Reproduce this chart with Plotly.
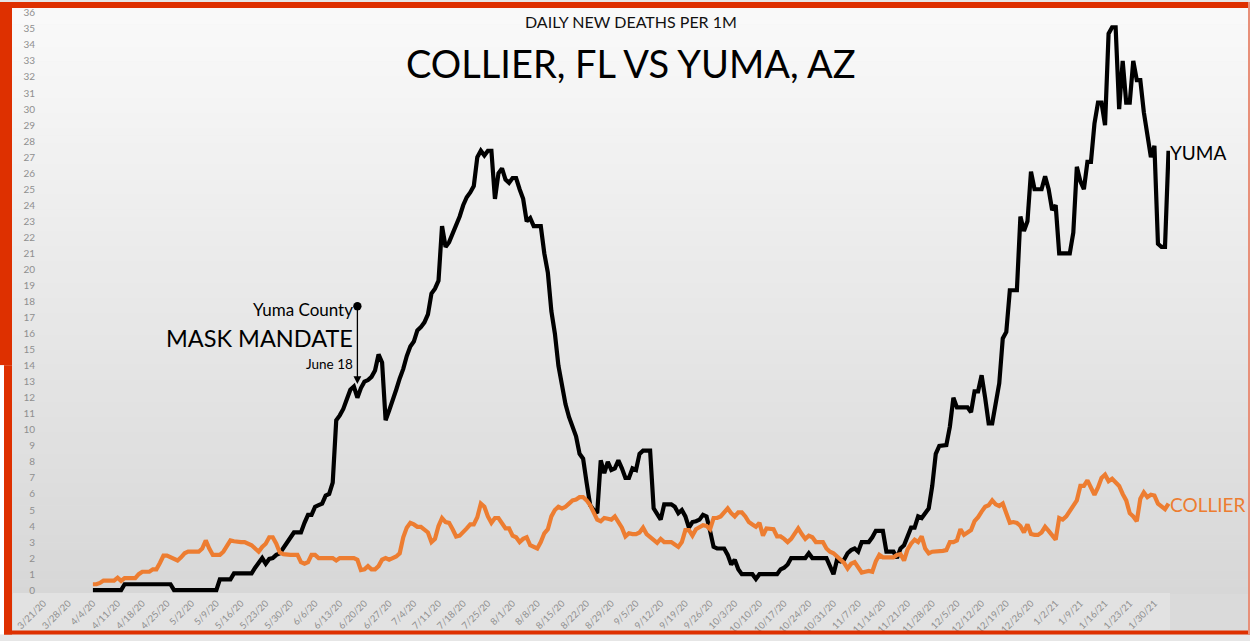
import plotly.graph_objects as go
import pandas as pd

# ---------------- data ----------------
start_date = "2020-04-04"   # first plotted day, one value per day

yuma = [
    0, 0, 0, 0, 0, 0, 0, 0, 0, 0.37,
    0.37, 0.37, 0.37, 0.37, 0.37, 0.37, 0.37, 0.37, 0.37, 0.37,
    0.37, 0.37, 0.37, 0, 0, 0, 0, 0, 0, 0,
    0, 0, 0, 0, 0, 0, 0.68, 0.68, 0.68, 0.68,
    1.05, 1.05, 1.05, 1.05, 1.05, 1.05, 1.4, 1.7, 2.0, 1.65,
    1.95, 2.0, 2.2, 2.3, 2.6, 2.9, 3.2, 3.6, 3.6, 3.6,
    4.2, 4.7, 4.7, 5.2, 5.3, 5.4, 5.9, 6.0, 6.7, 10.6,
    10.9, 11.3, 11.9, 12.5, 12.7, 12.0, 12.6, 13.0, 13.1, 13.3,
    13.7, 14.7, 14.2, 10.6, 11.2, 11.8, 12.5, 13.2, 13.8, 14.6,
    15.2, 15.5, 16.2, 16.4, 16.7, 17.2, 18.5, 18.8, 19.3, 22.7,
    21.4, 21.7, 22.2, 22.7, 23.3, 24.0, 24.5, 24.8, 25.2, 27.0,
    27.4, 27.1, 27.4, 27.4, 24.4, 26.0, 26.3, 25.6, 25.4, 25.7,
    25.7, 25.0, 24.4, 23.0, 23.2, 22.7, 22.7, 22.7, 21.0, 19.8,
    17.4, 16.0, 14.0, 12.8, 11.6, 10.8, 10.2, 9.6, 8.5, 8.2,
    6.7, 5.3, 5.0, 4.8, 8.1, 7.3, 8.0, 7.5, 7.6, 8.1,
    7.6, 7.0, 7.0, 7.6, 7.5, 8.5, 8.7, 8.7, 8.7, 5.1,
    4.8, 4.4, 5.35, 5.35, 5.35, 5.2, 4.8, 5.0, 4.6, 3.9,
    4.25, 4.3, 4.4, 4.7, 4.6, 3.7, 2.7, 2.6, 2.6, 2.6,
    2.2, 1.6, 1.9, 1.3, 1.0, 1.0, 1.0, 1.0, 0.7, 1.0,
    1.0, 1.0, 1.0, 1.0, 1.0, 1.3, 1.4, 1.6, 2.0, 2.0,
    2.0, 2.0, 2.0, 2.3, 2.0, 2.0, 2.0, 2.0, 2.0, 1.5,
    1.0, 1.9, 1.8, 1.9, 2.3, 2.5, 2.6, 2.4, 3.0, 3.0,
    3.0, 3.3, 3.7, 3.7, 3.7, 2.4, 2.4, 2.4, 2.0, 2.6,
    2.8, 3.4, 3.9, 3.9, 4.6, 4.5, 4.8, 5.1, 6.5, 8.5,
    9.0, 9.0, 9.05, 10.2, 12.0, 11.4, 11.4, 11.4, 11.4, 11.1,
    12.4, 12.4, 13.4, 12.0, 10.4, 10.4, 11.6, 12.9, 15.7, 16.1,
    18.7, 18.7, 18.7, 23.3, 22.4, 23.0, 26.1, 25.0, 25.0, 25.0,
    25.8, 25.0, 23.7, 24.0, 21.0, 21.0, 21.0, 21.0, 22.3, 26.4,
    25.5, 25.0, 26.7, 26.7, 29.1, 30.4, 30.4, 29.0, 34.7, 35.1,
    35.1, 30.0, 33.0, 30.4, 30.4, 33.0, 31.8, 31.8, 29.8, 28.2,
    27.0, 27.7, 21.6, 21.4, 21.4, 27.4,
]

collier = [
    0.37, 0.37, 0.45, 0.6, 0.6, 0.6, 0.6, 0.78, 0.58, 0.75,
    0.75, 0.75, 0.75, 1.0, 1.15, 1.15, 1.15, 1.3, 1.3, 1.7,
    2.15, 2.15, 2.05, 1.95, 1.85, 2.05, 2.3, 2.4, 2.4, 2.4,
    2.4, 2.6, 3.1, 2.6, 2.2, 2.2, 2.2, 2.4, 2.8, 3.1,
    3.05, 3.0, 3.0, 3.0, 2.9, 2.8, 2.6, 2.4, 2.7, 2.9,
    3.3, 3.3, 2.9, 2.35, 2.25, 2.2, 2.2, 2.2, 2.2, 1.75,
    1.65, 1.75, 2.2, 2.2, 2.0, 2.0, 2.0, 2.0, 2.0, 1.85,
    2.0, 2.0, 2.0, 2.0, 2.0, 1.9, 1.25, 1.3, 1.5, 1.3,
    1.3, 1.5, 1.9, 2.0, 1.9, 2.0, 2.1, 2.3, 3.3, 3.9,
    4.2, 4.1, 3.95, 3.95, 3.8, 3.6, 3.0, 3.2, 4.0, 4.5,
    4.25, 4.2, 3.8, 3.35, 3.4, 3.6, 3.85, 4.1, 4.1, 4.55,
    5.4, 5.2, 4.6, 4.2, 4.5, 4.5, 4.2, 3.85, 3.85, 3.4,
    3.3, 3.0, 3.2, 3.3, 2.8, 2.7, 2.6, 3.0, 3.55, 3.8,
    4.6, 5.0, 5.2, 5.1, 5.2, 5.4, 5.6, 5.65, 5.8, 5.8,
    5.6, 5.3, 4.9, 4.4, 4.3, 4.5, 4.45, 4.4, 4.6, 4.3,
    3.9, 3.35, 3.55, 3.5, 3.5, 3.6, 3.9, 3.5, 3.3, 3.1,
    2.95, 3.2, 3.0, 3.0, 3.0, 2.85, 2.7, 3.0, 3.75, 3.75,
    3.4, 3.8, 3.95, 4.05, 4.0, 3.8, 4.5, 4.5, 4.6, 4.9,
    5.1, 4.8, 4.6, 4.85, 4.85, 4.6, 4.25, 4.1, 3.95, 4.2,
    3.4, 3.85, 3.85, 3.8, 3.35, 3.35, 3.2, 3.0, 3.2, 3.5,
    3.85, 3.5, 3.2, 3.4, 3.3, 3.0, 3.0, 3.0, 2.6, 2.4,
    2.3, 2.1, 1.95, 1.7, 1.35, 1.65, 1.75, 1.4, 1.1, 1.15,
    1.2, 1.15, 1.8, 2.2, 2.05, 2.05, 2.05, 2.05, 2.2, 2.25,
    1.85, 2.55, 2.9, 3.15, 3.0, 3.35, 2.6, 2.3, 2.4, 2.4,
    2.4, 2.45, 2.5, 3.0, 3.0, 3.1, 3.8, 3.45, 3.6, 3.75,
    4.3, 4.55, 4.9, 5.2, 5.3, 5.6, 5.35, 5.25, 5.4, 4.8,
    4.2, 4.25, 4.2, 4.0, 3.6, 4.1, 3.5, 3.45, 3.45, 3.6,
    3.95, 3.7, 3.4, 3.15, 4.5, 4.4, 4.6, 4.9, 5.3, 5.6,
    6.5, 6.5, 6.85, 6.4, 5.95, 6.4, 7.0, 7.2, 6.8, 6.95,
    6.7, 6.5, 6.0, 5.6, 4.8, 4.6, 4.3, 5.7, 6.1, 5.8,
    5.95, 5.9, 5.4, 5.2, 5.05, 5.4,
]

x_tick_labels = [
    "3/21/20", "3/28/20", "4/4/20", "4/11/20", "4/18/20", "4/25/20", "5/2/20",
    "5/9/20", "5/16/20", "5/23/20", "5/30/20", "6/6/20", "6/13/20", "6/20/20",
    "6/27/20", "7/4/20", "7/11/20", "7/18/20", "7/25/20", "8/1/20", "8/8/20",
    "8/15/20", "8/22/20", "8/29/20", "9/5/20", "9/12/20", "9/19/20", "9/26/20",
    "10/3/20", "10/10/20", "10/17/20", "10/24/20", "10/31/20", "11/7/20",
    "11/14/20", "11/21/20", "11/28/20", "12/5/20", "12/12/20", "12/19/20",
    "12/26/20", "1/2/21", "1/9/21", "1/16/21", "1/23/21", "1/30/21",
]
y_tick_values = list(range(0, 37))

mandate_date = "2020-06-18"
mandate_top = 17.8
mandate_tip = 12.85

# ---------------- figure ----------------
dates = pd.date_range(start_date, periods=len(yuma), freq="D")
x_tick_vals = pd.to_datetime(x_tick_labels, format="%m/%d/%y")

W, H = 1250, 641
ML, MR, MT, MB = 40, 80, 6, 40
PW, PH = W - ML - MR, H - MT - MB


def fx(px):
    return (px - ML) / PW


def fy(py):
    return (H - MB - py) / PH


ORANGE = "#ED7D31"
RED = "#DE3000"
FONT = "Lato"

fig = go.Figure()
fig.add_trace(go.Scatter(x=dates, y=yuma, mode="lines", name="YUMA",
                         line=dict(color="#000000", width=4.2), hoverinfo="skip"))
fig.add_trace(go.Scatter(x=dates, y=collier, mode="lines", name="COLLIER",
                         line=dict(color=ORANGE, width=4.2), hoverinfo="skip"))

shapes = []
# vertical grey gradient background
n = 80
top_c, bot_c = 250, 215
for i in range(n):
    y0 = i * 600 / n
    y1 = (i + 1) * 600 / n + 0.5
    c = round(top_c + (bot_c - top_c) * (i + 0.5) / n)
    shapes.append(dict(type="rect", xref="paper", yref="paper", layer="below",
                       x0=fx(0), x1=fx(W), y0=fy(y1), y1=fy(y0),
                       fillcolor=f"rgb({c},{c},{c})", line=dict(width=0)))
shapes.append(dict(type="rect", xref="paper", yref="paper", layer="below",
                   x0=fx(0), x1=fx(W), y0=fy(H), y1=fy(600),
                   fillcolor="rgb(218,218,218)", line=dict(width=0)))
# lighter band under the plot area (axis label zone)
shapes.append(dict(type="rect", xref="paper", yref="paper", layer="below",
                   x0=fx(13), x1=fx(1170), y0=fy(637), y1=fy(599),
                   fillcolor="rgb(226,226,226)", line=dict(width=0)))


# red slide frame
def rect(x0, y0, x1, y1, color):
    shapes.append(dict(type="rect", xref="paper", yref="paper", layer="above",
                       x0=fx(x0), x1=fx(x1), y0=fy(y1), y1=fy(y0),
                       fillcolor=color, line=dict(width=0)))


rect(0, 0, W, 6, RED)
rect(0, 0, 12, 368, RED)
rect(0, 368, 4, H, "#ffffff")
rect(4, 368, 12, H, RED)
rect(4, 637, W, H, RED)
rect(1248, 0, W, H, "#E8907A")

annotations = [
    dict(text="DAILY NEW DEATHS PER 1M", x=fx(631), y=fy(20), xref="paper", yref="paper",
         xanchor="center", yanchor="middle", showarrow=False,
         font=dict(family=FONT, size=16, color="#111111")),
    dict(text="COLLIER, FL VS YUMA, AZ", x=fx(631), y=fy(62), xref="paper", yref="paper",
         xanchor="center", yanchor="middle", showarrow=False,
         font=dict(family=FONT, size=38, color="#000000")),
    dict(text="YUMA", x=fx(1168), y=fy(152), xref="paper", yref="paper",
         xanchor="left", yanchor="middle", showarrow=False,
         font=dict(family=FONT, size=19, color="#000000")),
    dict(text="COLLIER", x=fx(1168), y=fy(509), xref="paper", yref="paper",
         xanchor="left", yanchor="middle", showarrow=False,
         font=dict(family=FONT, size=19, color=ORANGE)),
    dict(text="Yuma County", x=fx(355), y=fy(312), xref="paper", yref="paper",
         xanchor="right", yanchor="middle", showarrow=False,
         font=dict(family=FONT, size=17, color="#000000")),
    dict(text="MASK MANDATE", x=fx(355), y=fy(341), xref="paper", yref="paper",
         xanchor="right", yanchor="middle", showarrow=False,
         font=dict(family=FONT, size=23.5, color="#000000")),
    dict(text="June 18", x=fx(355), y=fy(367), xref="paper", yref="paper",
         xanchor="right", yanchor="middle", showarrow=False,
         font=dict(family=FONT, size=13.5, color="#000000")),
    dict(text="", x=mandate_date, y=mandate_tip, xref="x", yref="y",
         ax=mandate_date, ay=mandate_top, axref="x", ayref="y",
         showarrow=True, arrowside="end+start", arrowhead=2, startarrowhead=6,
         arrowsize=1.2, startarrowsize=1.6, arrowwidth=1.3, arrowcolor="#000000",
         standoff=0, startstandoff=0),
]

fig.update_layout(
    width=W, height=H,
    margin=dict(l=ML, r=MR, t=MT, b=MB, pad=0),
    paper_bgcolor="#e6e6e6",
    plot_bgcolor="rgba(0,0,0,0)",
    showlegend=False,
    shapes=shapes,
    annotations=annotations,
    xaxis=dict(
        type="date",
        range=["2020-03-20", "2021-02-03 10:00"],
        tickmode="array", tickvals=x_tick_vals, ticktext=x_tick_labels,
        tickangle=-45, tickfont=dict(family=FONT, size=9.5, color="#8f8f8f"),
        showgrid=False, zeroline=False, showline=False, ticks="",
    ),
    yaxis=dict(
        range=[-0.3, 36.3],
        tickmode="array", tickvals=y_tick_values,
        tickfont=dict(family=FONT, size=10, color="#8f8f8f"),
        showgrid=False, zeroline=False, showline=False, ticks="",
        ticklabelstandoff=4,
    ),
)

fig.write_html(
    "out.html",
    config={"displayModeBar": False},
    post_script="document.body.style.margin='0';document.body.style.padding='0';"
                "document.documentElement.style.overflow='hidden';",
)
